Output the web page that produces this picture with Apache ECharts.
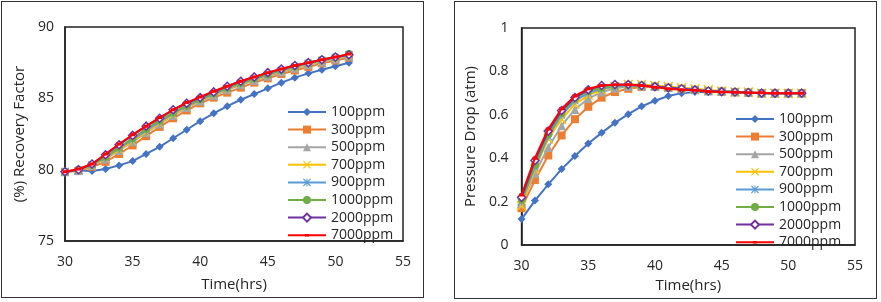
<!DOCTYPE html>
<html>
<head>
<meta charset="utf-8">
<script src="https://cdn.jsdelivr.net/npm/echarts@6/dist/echarts.min.js"></script>
<style>
  body { margin: 0; background: #fff; width: 881px; height: 302px; position: relative; overflow: hidden; }
  .box { position: absolute; border: 1px solid #333; box-sizing: border-box; }
  #left { left: 1px; top: 1px; width: 423px; height: 297px; }
  #right { left: 454px; top: 1px; width: 423px; height: 298px; }
</style>
</head>
<body>
<div id="left" class="box"></div>
<div id="right" class="box"></div>
<script>
// time axis (hrs)
const hours = [30, 31, 32, 33, 34, 35, 36, 37, 38, 39, 40, 41, 42, 43, 44, 45, 46, 47, 48, 49, 50, 51];
const seriesNames = ["100ppm", "300ppm", "500ppm", "700ppm", "900ppm", "1000ppm", "2000ppm", "7000ppm"];

// (%) recovery factor
const rf100 = [79.85, 79.95, 79.9, 80.05, 80.3, 80.6, 81.1, 81.6, 82.2, 82.8, 83.4, 83.95, 84.45, 84.9, 85.3, 85.7, 86.1, 86.45, 86.75, 87.0, 87.25, 87.5];
const rf300 = [79.85, 79.9, 80.2, 80.55, 81.1, 81.7, 82.35, 83.0, 83.6, 84.15, 84.65, 85.05, 85.4, 85.75, 86.1, 86.4, 86.7, 86.95, 87.2, 87.45, 87.65, 87.85];
const rf500 = [79.85, 79.95, 80.3, 80.75, 81.35, 81.95, 82.6, 83.2, 83.8, 84.35, 84.8, 85.2, 85.6, 85.95, 86.25, 86.55, 86.85, 87.1, 87.35, 87.55, 87.75, 87.95];
const rf700 = [79.85, 79.95, 80.3, 80.8, 81.4, 82.0, 82.65, 83.25, 83.85, 84.4, 84.85, 85.25, 85.65, 86.0, 86.3, 86.6, 86.9, 87.15, 87.4, 87.6, 87.8, 88.0];
const rf900 = [79.85, 79.95, 80.35, 80.85, 81.5, 82.1, 82.75, 83.35, 83.95, 84.45, 84.9, 85.3, 85.7, 86.05, 86.35, 86.65, 86.95, 87.2, 87.45, 87.65, 87.85, 88.05];
const rf1000 = [79.85, 80.0, 80.35, 80.9, 81.55, 82.2, 82.85, 83.45, 84.0, 84.5, 84.95, 85.35, 85.75, 86.1, 86.4, 86.7, 87.0, 87.25, 87.5, 87.7, 87.9, 88.1];
const rf2000 = [79.85, 80.0, 80.4, 81.05, 81.75, 82.4, 83.05, 83.6, 84.2, 84.65, 85.05, 85.45, 85.85, 86.2, 86.5, 86.8, 87.05, 87.3, 87.5, 87.7, 87.9, 88.05];
const rf7000 = [79.85, 80.05, 80.4, 81.1, 81.8, 82.45, 83.05, 83.65, 84.2, 84.7, 85.1, 85.5, 85.85, 86.2, 86.5, 86.8, 87.05, 87.3, 87.5, 87.7, 87.9, 88.1];

// pressure drop (atm)
const pd100 = [0.12, 0.205, 0.28, 0.35, 0.41, 0.468, 0.517, 0.563, 0.603, 0.639, 0.665, 0.687, 0.70, 0.705, 0.705, 0.705, 0.703, 0.702, 0.70, 0.70, 0.70, 0.70];
const pd300 = [0.17, 0.30, 0.413, 0.505, 0.58, 0.637, 0.679, 0.705, 0.72, 0.728, 0.73, 0.725, 0.72, 0.715, 0.71, 0.707, 0.705, 0.703, 0.70, 0.70, 0.70, 0.70];
const pd500 = [0.19, 0.33, 0.45, 0.55, 0.625, 0.675, 0.705, 0.722, 0.73, 0.733, 0.732, 0.727, 0.72, 0.715, 0.71, 0.707, 0.705, 0.703, 0.70, 0.70, 0.70, 0.70];
const pd700 = [0.18, 0.35, 0.49, 0.58, 0.65, 0.69, 0.715, 0.73, 0.74, 0.74, 0.735, 0.73, 0.725, 0.72, 0.715, 0.71, 0.705, 0.705, 0.70, 0.70, 0.70, 0.70];
const pd900 = [0.20, 0.36, 0.50, 0.60, 0.665, 0.70, 0.72, 0.73, 0.735, 0.735, 0.73, 0.725, 0.72, 0.715, 0.71, 0.707, 0.705, 0.703, 0.70, 0.70, 0.70, 0.70];
const pd1000 = [0.21, 0.37, 0.51, 0.61, 0.675, 0.71, 0.725, 0.735, 0.737, 0.735, 0.73, 0.725, 0.72, 0.715, 0.71, 0.707, 0.705, 0.703, 0.70, 0.70, 0.70, 0.70];
const pd2000 = [0.22, 0.39, 0.525, 0.62, 0.68, 0.715, 0.735, 0.74, 0.74, 0.735, 0.73, 0.725, 0.72, 0.715, 0.71, 0.707, 0.705, 0.703, 0.70, 0.70, 0.70, 0.70];
const pd7000 = [0.231, 0.40, 0.535, 0.628, 0.687, 0.72, 0.735, 0.739, 0.739, 0.735, 0.727, 0.72, 0.716, 0.713, 0.708, 0.705, 0.704, 0.702, 0.702, 0.70, 0.70, 0.70];

const rfData = [rf100, rf300, rf500, rf700, rf900, rf1000, rf2000, rf7000];
const pdData = [pd100, pd300, pd500, pd700, pd900, pd1000, pd2000, pd7000];

const colors = ["#4472C4", "#ED7D31", "#A5A5A5", "#FFC000", "#5B9BD5", "#70AD47", "#7030A0", "#FF0000"];
const xShape = "path://M0,1L1,0L5,4L9,0L10,1L6,5L10,9L9,10L5,6L1,10L0,9L4,5Z";
const starShape = "path://M0,1L1,0L5,4L9,0L10,1L6,5L10,9L9,10L5,6L1,10L0,9L4,5Z M4.4,0L5.6,0L5.6,10L4.4,10Z";
// small dash marker; the zero-size corners keep the bounding box square so it stays small
const dashShape = "path://M0,0L0,0ZM10,10L10,10ZM2.5,3.5L7.5,3.5L7.5,6.5L2.5,6.5Z";
const markers = [
  { symbol: "diamond", size: 8 },
  { symbol: "rect", size: 8 },
  { symbol: "triangle", size: 9 },
  { symbol: xShape, size: 8 },
  { symbol: starShape, size: 8 },
  { symbol: "circle", size: 8 },
  { symbol: "diamond", size: 8, hollow: true },
  { symbol: dashShape, size: 10 },
];

const font = "'Open Sans', sans-serif";
const textColor = "#262626";

function makeSeries(data, xSize) {
  return data.map((values, i) => {
    const m = markers[i];
    return {
      name: seriesNames[i],
      type: "line",
      data: hours.map((h, j) => [h, values[j]]),
      symbol: m.symbol,
      symbolSize: i === 3 ? xSize : m.size,
      showAllSymbol: true,
      lineStyle: { color: colors[i], width: 2 },
      itemStyle: m.hollow
        ? { color: "#fff", borderColor: colors[i], borderWidth: 1.5 }
        : { color: colors[i], borderWidth: 0 },
      emphasis: { disabled: true },
      animation: false,
      z: 2 + i,
    };
  });
}

function makeOption(cfg) {
  return {
    animation: false,
    textStyle: { fontFamily: font },
    grid: { ...cfg.grid, show: true, borderColor: "#222", borderWidth: 1.5, backgroundColor: "#fff" },
    legend: {
      orient: "vertical",
      left: cfg.legendLeft,
      top: cfg.legendTop,
      itemWidth: 38,
      itemHeight: 10,
      itemGap: 3.6,
      textStyle: { fontSize: 14, lineHeight: 14, color: textColor, fontFamily: font },
      data: seriesNames,
    },
    xAxis: {
      type: "value",
      min: 30,
      max: 55,
      interval: 5,
      name: "Time(hrs)",
      nameLocation: "middle",
      nameGap: cfg.xNameGap,
      nameTextStyle: { fontSize: 15, color: textColor },
      axisLine: { show: true, lineStyle: { color: "#222", width: 1.5 } },
      axisTick: { show: false },
      splitLine: { show: false },
      axisLabel: { fontSize: 14, color: textColor, margin: cfg.xMargin },
    },
    yAxis: {
      type: "value",
      min: cfg.yMin,
      max: cfg.yMax,
      interval: cfg.yInterval,
      name: cfg.yName,
      nameLocation: "middle",
      nameGap: cfg.yNameGap,
      nameTextStyle: { fontSize: 15, color: textColor },
      axisLine: { show: true, lineStyle: { color: "#222", width: 1.5 } },
      axisTick: { show: false },
      splitLine: { show: false },
      axisLabel: { fontSize: 14, color: textColor, margin: cfg.yMargin },
    },
    series: makeSeries(cfg.data, cfg.xSize),
  };
}

const leftChart = echarts.init(document.getElementById("left"));
leftChart.setOption(makeOption({
  grid: { left: 63, right: 20, top: 25, bottom: 52 },
  legendLeft: 280,
  legendTop: 98,
  xNameGap: 36,
  xMargin: 14,
  yMin: 75,
  yMax: 90,
  yInterval: 5,
  yName: "(%) Recovery Factor",
  yNameGap: 28,
  yMargin: 11,
  xSize: 8,
  data: rfData,
}));

const rightChart = echarts.init(document.getElementById("right"));
rightChart.setOption(makeOption({
  grid: { left: 64, right: 21, top: 26, bottom: 46 },
  legendLeft: 275,
  legendTop: 105,
  xNameGap: 31,
  xMargin: 14,
  yMin: 0,
  yMax: 1,
  yInterval: 0.2,
  yName: "Pressure Drop (atm)",
  yNameGap: 34,
  yMargin: 13,
  xSize: 10,
  data: pdData,
}));
</script>
</body>
</html>
